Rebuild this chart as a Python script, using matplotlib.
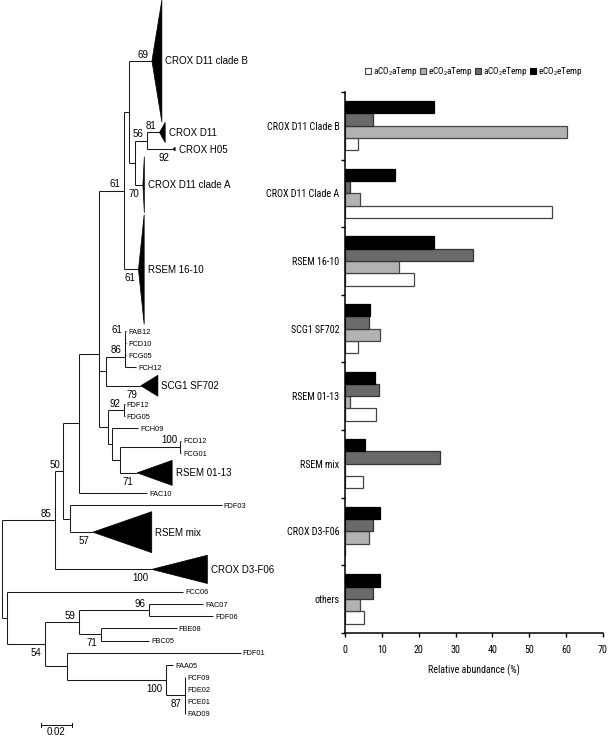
import matplotlib
matplotlib.use("Agg")
import matplotlib.pyplot as plt
from matplotlib import font_manager
from matplotlib.patches import Polygon, Patch
from matplotlib.collections import LineCollection
import numpy as np

# ---------------- data: bar chart ----------------
categories = ["CROX D11 Clade B", "CROX D11 Clade A", "RSEM 16-10", "SCG1 SF702",
              "RSEM 01-13", "RSEM mix", "CROX D3-F06", "others"]
aCO2aTemp = [3.4, 56.2, 18.7, 3.4, 8.5, 5.0, 0.0, 5.1]
eCO2aTemp = [60.1, 4.1, 14.7, 9.5, 1.4, 0.0, 6.6, 4.2]
aCO2eTemp = [7.7, 1.4, 34.6, 6.5, 9.1, 25.7, 7.7, 7.7]
eCO2eTemp = [24.1, 13.6, 24.1, 6.8, 8.2, 5.5, 9.5, 9.5]
series_names = [r"aCO$_\mathregular{2}$aTemp", r"eCO$_\mathregular{2}$aTemp",
                r"aCO$_\mathregular{2}$eTemp", r"eCO$_\mathregular{2}$eTemp"]
x_ticks = [0, 10, 20, 30, 40, 50, 60, 70]
x_label = "Relative abundance (%)"

# ---------------- data: tree ----------------
tree_newick = ("((((((((CROX_D11_clade_B:0.0142,((CROX_D11:0.0080,CROX_H05:0.0166)56:0.0078,"
               "CROX_D11_clade_A:0.0053):0.0032):0.0034,RSEM_16-10:0.0091)61:0.0156,"
               "((((FAB12:0.0003,FCD10:0.0003)61:0.0002,FCG05:0.0005):0,FCH12:0.0070)86:0.0123,"
               "SCG1_SF702:0.0223):0.0039):0,((FDF12:0.0003,FDG05:0.0003)92:0.0104,"
               "(FCH09:0.0168,((FCD12:0.0003,FCG01:0.0003)100:0.0380,RSEM_01-13:0.0106):0.0053)"
               ":0.0027):0.0052):0.0127,FAC10:0.0427):0.0101,(FDF03:0.0960,RSEM_mix:0.0144)"
               ":0.0042)50:0.0053,CROX_D3-F06:0.0612)85:0.0339,(FCC06:0.1118,"
               "(((FAC07:0.0344,FDF06:0.0407)96:0.0441,(FBE08:0.0479,FBC05:0.0306)71:0.0137)"
               "59:0.0217,(FDF01:0.1101,(FAA05:0.0048,(FCF09:0.0003,FDE02:0.0003,FCE01:0.0003,"
               "FAD09:0.0003)87:0.0122)100:0.0627):0.0137)54:0.0242):0.0033);")
collapsed_names = ["CROX_D11_clade_B", "CROX_D11", "CROX_H05", "CROX_D11_clade_A",
                   "RSEM_16-10", "SCG1_SF702", "RSEM_01-13", "RSEM_mix", "CROX_D3-F06"]
collapsed_support = [69, 81, 92, 70, 61, 79, 71, 57, 100]
collapsed_span = [10.0, 1.72, 1.0, 4.84, 9.06, 2.0, 2.28, 3.44, 2.66]     # rows
collapsed_depth = [0.0063, 0.0036, 0.0013, 0.0009, 0.0036, 0.0108, 0.0222, 0.0373, 0.0352]
collapsed_height = [10.0, 1.64, 0.3, 4.6, 9.0, 1.72, 2.05, 3.36, 2.32]    # rows
scale_bar_length = 0.02
scale_bar_label = "0.02"

# ---------------- fonts ----------------
entries = font_manager.fontManager.ttflist
names = {f.name for f in entries}
tree_font = "Liberation Sans"
bar_font, bar_stretch, bar_fs = None, "normal", 6.3
for cand in ["Liberation Sans Narrow", "Arial Narrow", "Roboto Condensed",
             "Noto Sans Condensed", "Open Sans Condensed", "DejaVu Sans Condensed",
             "Noto Sans SemiCondensed"]:
    if cand in names:
        bar_font, bar_fs = cand, 7.2
        break
if bar_font is None:
    for f in entries:
        if ("Narrow" in f.name or "Condensed" in f.name) and "Mono" not in f.name \
                and "Serif" not in f.name and f.style == "normal":
            bar_font, bar_fs = f.name, 7.2
            break
if bar_font is None:
    for f in entries:
        if str(f.stretch) in ("condensed", "semi-condensed", "extra-condensed") \
                and "Mono" not in f.name and "Serif" not in f.name and f.style == "normal":
            bar_font, bar_stretch, bar_fs = f.name, str(f.stretch), 7.2
            break
if bar_font is None:
    bar_font = "Liberation Sans"

plt.rcParams["font.family"] = [tree_font, "DejaVu Sans"]
plt.rcParams["mathtext.fontset"] = "custom"
plt.rcParams["mathtext.rm"] = bar_font
bar_prop = dict(fontfamily=bar_font, fontstretch=bar_stretch, fontsize=bar_fs)

W, H = 608, 737
fig = plt.figure(figsize=(W / 100, H / 100), dpi=100)

# =============== tree ===============
def parse_newick(s):
    pos = [0]

    def node():
        nd = {"children": [], "name": "", "bl": 0.0, "sup": ""}
        if s[pos[0]] == "(":
            pos[0] += 1
            while True:
                nd["children"].append(node())
                ch = s[pos[0]]
                pos[0] += 1
                if ch == ")":
                    break
        st = pos[0]
        while s[pos[0]] not in ":,);":
            pos[0] += 1
        lab = s[st:pos[0]]
        if nd["children"]:
            nd["sup"] = lab
        else:
            nd["name"] = lab
        if s[pos[0]] == ":":
            pos[0] += 1
            st = pos[0]
            while s[pos[0]] not in ",);":
                pos[0] += 1
            nd["bl"] = float(s[st:pos[0]])
        return nd

    return node()


cinfo = {n: dict(sup=s, span=sp, depth=d, h=h) for n, s, sp, d, h in
         zip(collapsed_names, collapsed_support, collapsed_span, collapsed_depth, collapsed_height)}

root = parse_newick(tree_newick)
ycur = [0.0]


def layout(nd, px):
    nd["px"] = px
    nd["x"] = px + nd["bl"]
    if nd["children"]:
        for c in nd["children"]:
            layout(c, nd["x"])
        nd["y"] = 0.5 * (nd["children"][0]["y"] + nd["children"][-1]["y"])
    else:
        span = cinfo[nd["name"]]["span"] if nd["name"] in cinfo else 1.0
        nd["y"] = ycur[0] + span / 2
        ycur[0] += span


layout(root, 0.0)
root["x"] = 0.0

PXU = 1580.0   # pixels per substitution unit
ROW = 12.2     # pixels per row
axt = fig.add_axes([0, 0, 0.5, 1])
axt.set_xlim(-1.5 / PXU, (304 - 1.5) / PXU)
axt.set_ylim(H / ROW, 0)
axt.axis("off")

segs = []
LC = "#1a1a1a"


def draw(nd, pos_in_parent=None):
    if nd is not root:
        segs.append([(nd["px"], nd["y"]), (nd["x"], nd["y"])])
    if nd["children"]:
        segs.append([(nd["x"], nd["children"][0]["y"]), (nd["x"], nd["children"][-1]["y"])])
        for i, c in enumerate(nd["children"]):
            draw(c, "first" if i == 0 else ("last" if i == len(nd["children"]) - 1 else "mid"))
        sup = nd["sup"]
    else:
        name = nd["name"]
        if name in cinfo:
            ci = cinfo[name]
            x0, y0 = nd["x"], nd["y"]
            tri = Polygon([(x0, y0), (x0 + ci["depth"], y0 - ci["h"] / 2),
                           (x0 + ci["depth"], y0 + ci["h"] / 2)], closed=True,
                          facecolor="black", edgecolor="black", linewidth=0.5)
            axt.add_patch(tri)
            axt.annotate(name.replace("_", " "), xy=(x0 + ci["depth"], y0),
                         xytext=(2.5, -2.5), textcoords="offset points",
                         ha="left", va="baseline", fontsize=7)
            sup = str(ci["sup"])
        else:
            axt.annotate(name, xy=(nd["x"], nd["y"]), xytext=(1.5, -1.9),
                         textcoords="offset points", ha="left", va="baseline", fontsize=5.3)
            sup = ""
    if sup:
        dy = 2.5 if pos_in_parent == "first" else -8.5
        axt.annotate(sup, xy=(nd["x"], nd["y"]), xytext=(-2.4, dy),
                     textcoords="offset points", ha="right", va="baseline", fontsize=7)


draw(root)
axt.add_collection(LineCollection(segs, colors=LC, linewidths=0.75))

# scale bar
sb_x0 = 0.0248
sb_y = ycur[0] + 0.4
axt.plot([sb_x0, sb_x0 + scale_bar_length], [sb_y, sb_y], color=LC, lw=0.75)
for xe in (sb_x0, sb_x0 + scale_bar_length):
    axt.plot([xe, xe], [sb_y - 0.17, sb_y + 0.17], color=LC, lw=0.75)
axt.annotate(scale_bar_label, xy=(sb_x0 + scale_bar_length / 2, sb_y), xytext=(0, -7.3),
             textcoords="offset points", ha="center", va="baseline", fontsize=7)

# =============== bar chart ===============
axb = fig.add_axes([345 / W, 1 - 632.7 / H, (603 - 345) / W, (632.7 - 92) / H])
n = len(categories)
pos = np.arange(n)[::-1].astype(float)
bh = 0.182
series = [aCO2aTemp, eCO2aTemp, aCO2eTemp, eCO2eTemp]
colors = ["white", "#b2b2b2", "#6a6a6a", "black"]
edges = ["#444444", "#444444", "#333333", "black"]
offs = [-1.5, -0.5, 0.5, 1.5]
for vals, off, col, ec in zip(series, offs, colors, edges):
    axb.barh(pos + off * bh, vals, height=bh, color=col, edgecolor=ec, linewidth=0.9)

axb.set_xlim(0, 70)
axb.set_ylim(-0.5, n - 0.5)
axb.set_xticks(x_ticks)
axb.set_xticklabels([str(t) for t in x_ticks], **bar_prop)
axb.set_yticks(pos)
axb.set_yticklabels(categories, **bar_prop)
axb.set_yticks(np.arange(-0.5, n), minor=True)
axb.tick_params(axis="y", which="major", length=0, pad=4)
axb.tick_params(axis="y", which="minor", length=3, width=1.0, direction="out")
axb.tick_params(axis="x", which="major", length=3, width=1.0, direction="out", pad=6)
for s in ("top", "right"):
    axb.spines[s].set_visible(False)
for s in ("left", "bottom"):
    axb.spines[s].set_linewidth(1.1)
axb.set_xlabel(x_label, labelpad=7, **bar_prop)

handles = [Patch(facecolor=c, edgecolor=e, linewidth=0.8) for c, e in zip(colors, edges)]
axb.legend(handles, series_names, loc="center", bbox_to_anchor=(0.5, 1.037), ncol=4,
           frameon=False, handlelength=0.65, handleheight=0.65, handletextpad=0.2,
           columnspacing=0.25, borderaxespad=0, borderpad=0,
           prop={"family": bar_font, "stretch": bar_stretch, "size": 6.6})

fig.savefig("out.png", dpi=100)
